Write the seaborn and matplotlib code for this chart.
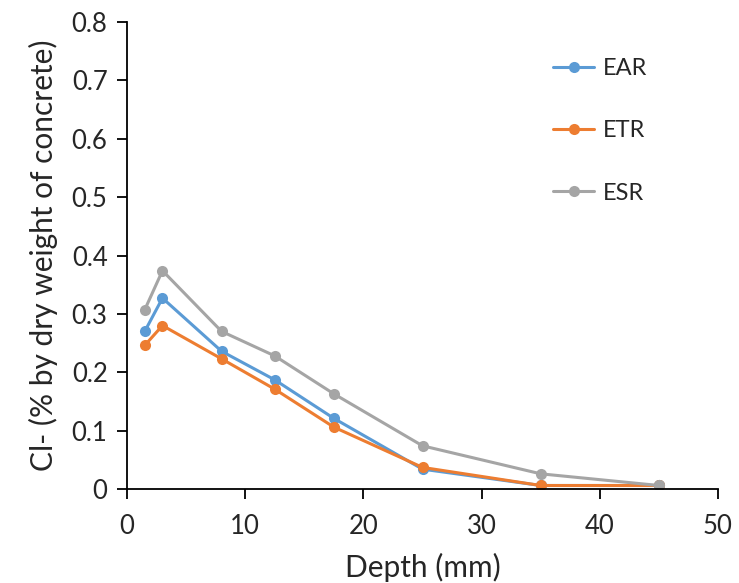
import matplotlib
matplotlib.use("Agg")
import matplotlib.pyplot as plt
import seaborn as sns
import pandas as pd

depth = [1.5, 3, 8, 12.5, 17.5, 25, 35, 45]
ear = [0.270, 0.327, 0.236, 0.187, 0.121, 0.034, 0.006, 0.006]
etr = [0.246, 0.280, 0.223, 0.171, 0.106, 0.037, 0.006, 0.006]
esr = [0.307, 0.374, 0.270, 0.228, 0.163, 0.074, 0.026, 0.006]
series_names = ["EAR", "ETR", "ESR"]
colors = ["#5B9BD5", "#ED7D31", "#A5A5A5"]
x_ticks = [0, 10, 20, 30, 40, 50]
y_ticks = [0, 0.1, 0.2, 0.3, 0.4, 0.5, 0.6, 0.7, 0.8]
y_tick_labels = ["0", "0.1", "0.2", "0.3", "0.4", "0.5", "0.6", "0.7", "0.8"]

rows = []
for name, vals in zip(series_names, [ear, etr, esr]):
    for d, v in zip(depth, vals):
        rows.append({"Depth": d, "Cl": v, "Series": name})
df = pd.DataFrame(rows)

sns.set_style("white")
plt.rcParams["font.family"] = ["Lato", "DejaVu Sans"]

fig = plt.figure(figsize=(7.39, 5.83), dpi=100)
ax = fig.add_axes([127/739, 1 - 489/583, (718-127)/739, (489-22)/583])

for name, col in zip(series_names, colors):
    sub = df[df["Series"] == name]
    sns.lineplot(data=sub, x="Depth", y="Cl", ax=ax, color=col, linewidth=2.2,
                 marker="o", markersize=8, markeredgewidth=0, label=name,
                 estimator=None, sort=False)

ax.set_xlim(0, 50)
ax.set_ylim(0, 0.8)
ax.set_xticks(x_ticks)
ax.set_yticks(y_ticks)
ax.set_yticklabels(y_tick_labels)
for s in ["top", "right"]:
    ax.spines[s].set_visible(False)
for s in ["left", "bottom"]:
    ax.spines[s].set_color("black")
    ax.spines[s].set_linewidth(1.3)
ax.tick_params(axis="both", which="major", direction="out", length=7, width=1.3,
               labelsize=18.5, color="black", left=True, bottom=True)
ax.tick_params(axis="x", pad=11)
ax.tick_params(axis="y", pad=7)
ax.set_xlabel("Depth (mm)", fontsize=21.5, labelpad=10)
ax.set_ylabel("Cl- (% by dry weight of concrete)", fontsize=21.5, labelpad=10)

leg = ax.legend(loc="upper left", bbox_to_anchor=((553-127)/591, (489-58)/467),
                frameon=False, fontsize=17, labelspacing=1.75, handlelength=1.75,
                handletextpad=0.35, borderaxespad=0, borderpad=0)

fig.savefig("out.png", dpi=100)
